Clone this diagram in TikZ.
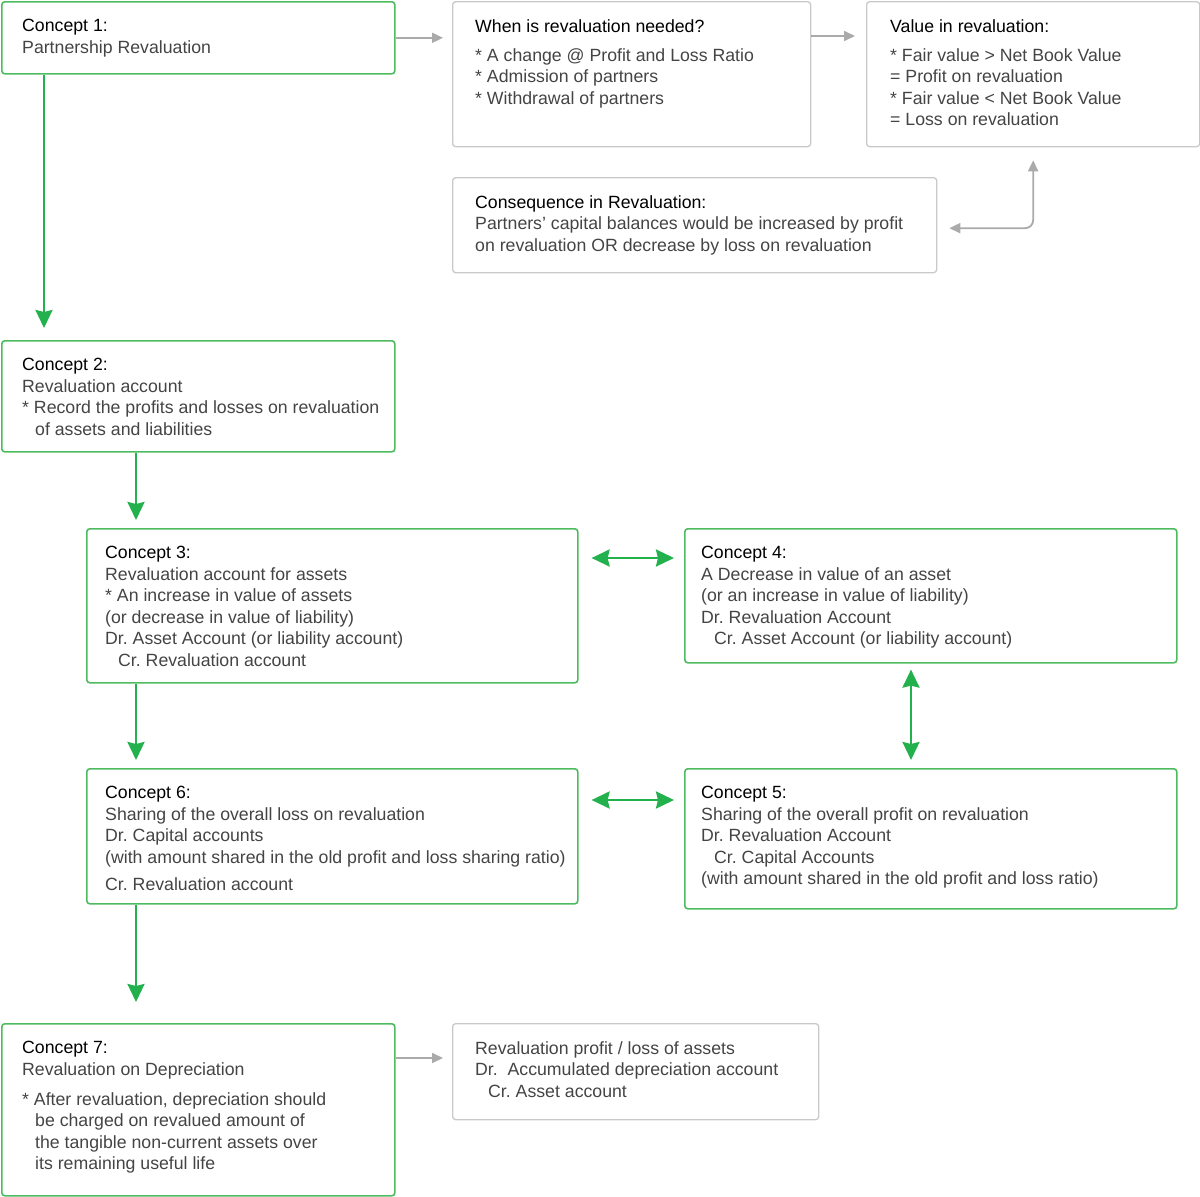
\documentclass[tikz,border=0pt]{standalone}
\usepackage{fontspec}
\setmainfont{Liberation Sans}
\usetikzlibrary{arrows.meta}
\definecolor{boxgreen}{HTML}{4DBB5F}
\definecolor{arrgreen}{HTML}{22B14C}
\definecolor{boxgray}{HTML}{C9C9C9}
\definecolor{arrgray}{HTML}{AAAAAA}
\definecolor{txtgray}{HTML}{444444}
\newcommand{\ttl}[1]{\textcolor{black}{#1}}
\newcommand{\ind}{\hspace*{13pt}}
\frenchspacing
\tikzset{
  gbox/.style={draw=boxgreen, line width=1.6pt, rounded corners=3pt, anchor=north west, inner sep=0pt},
  sbox/.style={draw=boxgray, line width=1.3pt, rounded corners=3pt, anchor=north west, inner sep=0pt},
  txt/.style={anchor=north west, inner sep=0pt, align=left, text=txtgray, font=\fontsize{17.7}{21.5}\selectfont},
  gtip/.tip={Stealth[length=18pt,width=17pt,inset=2pt]},
  stip/.tip={Triangle[length=11pt,width=10pt]},
  garr/.style={draw=arrgreen, line width=2.5pt, -gtip},
  garr2/.style={draw=arrgreen, line width=2.5pt, gtip-gtip},
  sarr/.style={draw=arrgray, line width=1.8pt, -stip},
}
\begin{document}
\begin{tikzpicture}[x=1pt, y=1pt]
    \useasboundingbox (0,0) rectangle (1200,-1197);
    % boxes
    \node[gbox, minimum width=393, minimum height=72] (c1) at (1,-1) {};
    \node[sbox, minimum width=358, minimum height=145] (when) at (452,-1) {};
    \node[sbox, minimum width=333, minimum height=145] (value) at (866,-1) {};
    \node[sbox, minimum width=484, minimum height=95] (cons) at (452,-177) {};
    \node[gbox, minimum width=393, minimum height=111] (c2) at (1,-340) {};
    \node[gbox, minimum width=491, minimum height=154] (c3) at (86,-528) {};
    \node[gbox, minimum width=492, minimum height=134] (c4) at (684,-528) {};
    \node[gbox, minimum width=491, minimum height=135] (c6) at (86,-768) {};
    \node[gbox, minimum width=492, minimum height=140] (c5) at (684,-768) {};
    \node[gbox, minimum width=393, minimum height=172] (c7) at (1,-1023) {};
    \node[sbox, minimum width=366, minimum height=96] (reval) at (452,-1023) {};

    % texts
    \node[txt] (t1) at ([shift={(21,-18)}]c1.north west)
        {\ttl{Concept 1:}\\ Partnership Revaluation};
    \node[txt] (twhen) at ([shift={(23,-18)}]when.north west)
        {\ttl{When is revaluation needed?}\\[7.5pt] * A change @ Profit and Loss Ratio\\ * Admission of partners\\ * Withdrawal of partners};
    \node[txt] (tvalue) at ([shift={(24,-18)}]value.north west)
        {\ttl{Value in revaluation:}\\[7.5pt] * Fair value > Net Book Value\\ = Profit on revaluation\\ * Fair value < Net Book Value\\ = Loss on revaluation};
    \node[txt] (tcons) at ([shift={(23,-18)}]cons.north west)
        {\ttl{Consequence in Revaluation:}\\ Partners' capital balances would be increased by profit\\ on revaluation OR decrease by loss on revaluation};
    \node[txt] (t2) at ([shift={(21,-18)}]c2.north west)
        {\ttl{Concept 2:}\\ Revaluation account\\ * Record the profits and losses on revaluation\\ \ind of assets and liabilities};
    \node[txt] (t3) at ([shift={(19,-18)}]c3.north west)
        {\ttl{Concept 3:}\\ Revaluation account for assets\\ * An increase in value of assets\\ (or decrease in value of liability)\\ Dr. Asset Account (or liability account)\\ \ind Cr. Revaluation account};
    \node[txt] (t4) at ([shift={(17,-18)}]c4.north west)
        {\ttl{Concept 4:}\\ A Decrease in value of an asset\\ (or an increase in value of liability)\\ Dr. Revaluation Account\\ \ind Cr. Asset Account (or liability account)};
    \node[txt] (t6) at ([shift={(19,-18)}]c6.north west)
        {\ttl{Concept 6:}\\ Sharing of the overall loss on revaluation\\ Dr. Capital accounts\\ (with amount shared in the old profit and loss sharing ratio)\\[5.5pt] Cr. Revaluation account};
    \node[txt] (t5) at ([shift={(17,-18)}]c5.north west)
        {\ttl{Concept 5:}\\ Sharing of the overall profit on revaluation\\ Dr. Revaluation Account\\ \ind Cr. Capital Accounts\\ (with amount shared in the old profit and loss ratio)};
    \node[txt] (t7) at ([shift={(21,-18)}]c7.north west)
        {\ttl{Concept 7:}\\ Revaluation on Depreciation\\[8.5pt] * After revaluation, depreciation should\\ \ind be charged on revalued amount of\\ \ind the tangible non-current assets over\\ \ind its remaining useful life};
    \node[txt] (treval) at ([shift={(23,-18)}]reval.north west)
        {Revaluation profit / loss of assets\\ Dr.\ \ Accumulated depreciation account\\ \ind Cr. Asset account};

    % connectors
    \draw[sarr] (c1.east) -- ([xshift=-9]c1.east -| when.west);
    \draw[sarr] ([yshift=-35]when.north east) -- ([shift={(-11,-35)}]value.north west);
    \draw[sarr, stip-stip, rounded corners=8pt] ([shift={(12,-3)}]cons.east) -| ([yshift=-13]value.south);
    \draw[garr] ([xshift=43]c1.south west) -- ([shift={(43,12)}]c2.north west);
    \draw[garr] ([xshift=135]c2.south west) -- ([shift={(50,8)}]c3.north west);
    \draw[garr2] ([shift={(13,-30)}]c3.north east) -- ([shift={(-10,-30)}]c4.north west);
    \draw[garr2] ([shift={(227,-6)}]c4.south west) -- ([shift={(227,8)}]c5.north west);
    \draw[garr] ([xshift=50]c3.south west) -- ([shift={(50,8)}]c6.north west);
    \draw[garr2] ([shift={(13,-32)}]c6.north east) -- ([shift={(-10,-32)}]c5.north west);
    \draw[garr] ([xshift=50]c6.south west) -- ([shift={(135,21)}]c7.north west);
    \draw[sarr] ([yshift=-35]c7.north east) -- ([shift={(-9,-35)}]reval.north west);
\end{tikzpicture}
\end{document}
